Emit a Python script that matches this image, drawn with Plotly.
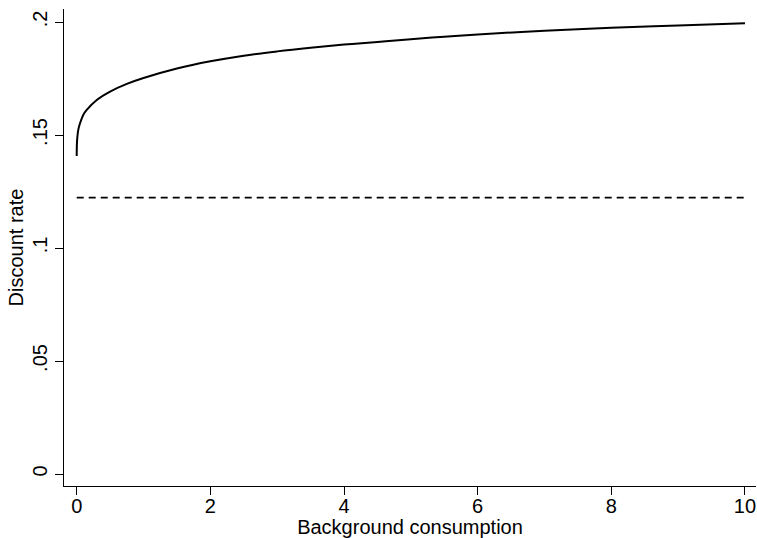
import plotly.graph_objects as go

# Background consumption (x) and discount rate (y)
consumption = [0, 0.003, 0.01, 0.025, 0.05, 0.1, 0.15, 0.3, 0.5, 0.75, 1.0, 1.5, 2.0,
               2.5, 3.0, 3.5, 4.0, 4.5, 5.0, 5.5, 6.0, 7.0, 8.0, 9.0, 10.0]
discount_rate = [0.1407, 0.1460, 0.1492, 0.1525, 0.1552, 0.1590, 0.1611, 0.1655, 0.1692,
                 0.1726, 0.1752, 0.1794, 0.1826, 0.1851, 0.1870, 0.1886, 0.1900, 0.1912,
                 0.1924, 0.1935, 0.1945, 0.1961, 0.1974, 0.1985, 0.1994]

flat_x = [0, 10]
flat_rate = [0.1223, 0.1223]

x_ticks = [0, 2, 4, 6, 8, 10]
y_ticks = [0, 0.05, 0.1, 0.15, 0.2]
y_tick_labels = ["0", ".05", ".1", ".15", ".2"]

font = "Liberation Sans, Arial, Helvetica, sans-serif"
fs = 20

fig = go.Figure()
fig.add_trace(go.Scatter(x=consumption, y=discount_rate, mode="lines",
                         line=dict(color="black", width=2, shape="spline", smoothing=1),
                         showlegend=False, hoverinfo="skip"))
fig.add_trace(go.Scatter(x=flat_x, y=flat_rate, mode="lines",
                         line=dict(color="black", width=1.8, dash="7px,5px"),
                         showlegend=False, hoverinfo="skip"))

fig.update_layout(
    width=757, height=538,
    margin=dict(l=64, r=1, t=9, b=52),
    paper_bgcolor="white", plot_bgcolor="white",
    font=dict(family=font, size=fs, color="black"),
    xaxis=dict(range=[-0.19, 10.165], tickvals=x_ticks, ticktext=[str(v) for v in x_ticks],
               showgrid=False, zeroline=False, showline=True, linecolor="black", linewidth=1,
               ticks="outside", ticklen=8, tickcolor="black", tickwidth=1,
               tickfont=dict(size=fs), ticklabelstandoff=-6,
               title=dict(text="Background consumption", font=dict(size=fs), standoff=6),
               automargin=False),
    yaxis=dict(range=[-0.00531, 0.20575], tickvals=y_ticks, ticktext=y_tick_labels,
               tickangle=-90,
               showgrid=False, zeroline=False, showline=True, linecolor="black", linewidth=1,
               ticks="outside", ticklen=8, tickcolor="black", tickwidth=1,
               tickfont=dict(size=fs), ticklabelstandoff=0,
               title=dict(text="Discount rate", font=dict(size=fs), standoff=0),
               automargin=False),
)

fig.write_html("out.html", config={"displayModeBar": False},
               post_script="document.body.style.margin='0';document.body.style.overflow='hidden';")
